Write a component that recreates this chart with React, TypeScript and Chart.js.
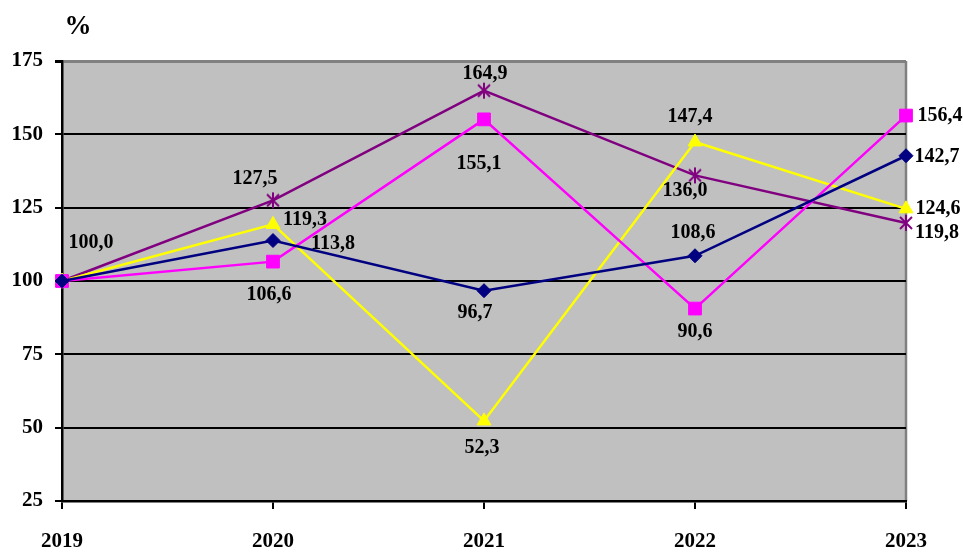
import React, { useEffect, useRef } from "react";
import { Chart, registerables } from "chart.js";

Chart.register(...registerables);

const years = ["2019", "2020", "2021", "2022", "2023"];
const navySeries = [100.0, 113.8, 96.7, 108.6, 142.7];
const magentaSeries = [100.0, 106.6, 155.1, 90.6, 156.4];
const yellowSeries = [100.0, 119.3, 52.3, 147.4, 124.6];
const purpleSeries = [100.0, 127.5, 164.9, 136.0, 119.8];
const yTicks = [25, 50, 75, 100, 125, 150, 175];

// label placement offsets (dx, dy) relative to each point; null = no label
const navyLabelOffsets = [null, [60, 3], [-9, 22], [-2, -23], [31, 1]];
const magentaLabelOffsets = [null, [-4, 33], [-5, 44], [0, 23], [34, 0]];
const yellowLabelOffsets = [null, [32, -5], [-2, 27], [-5, -25], [32, 0]];
const purpleLabelOffsets = [[29, -38], [-18, -22], [1, -17], [-10, 15], [31, 10]];

const FONT = "'Liberation Serif', 'Times New Roman', serif";

function makeStar(color: string): HTMLCanvasElement {
  const c = document.createElement("canvas");
  c.width = 18;
  c.height = 18;
  const g = c.getContext("2d")!;
  g.strokeStyle = color;
  g.lineWidth = 2;
  g.beginPath();
  g.moveTo(3, 3);
  g.lineTo(15, 15);
  g.moveTo(15, 3);
  g.lineTo(3, 15);
  g.moveTo(9, 1);
  g.lineTo(9, 17);
  g.stroke();
  return c;
}

export default function App() {
  const ref = useRef<HTMLCanvasElement | null>(null);

  useEffect(() => {
    document.body.style.margin = "0";
    const canvas = ref.current!;
    const offsets = [navyLabelOffsets, magentaLabelOffsets, yellowLabelOffsets, purpleLabelOffsets];

    const bgPlugin = {
      id: "bg",
      beforeDraw(chart: any) {
        const { ctx, chartArea: a } = chart;
        ctx.save();
        ctx.fillStyle = "#C0C0C0";
        ctx.fillRect(a.left, a.top, a.right - a.left, a.bottom - a.top);
        ctx.strokeStyle = "#808080";
        ctx.lineWidth = 2.5;
        ctx.beginPath();
        ctx.moveTo(a.right, a.top);
        ctx.lineTo(a.right, a.bottom);
        ctx.stroke();
        ctx.restore();
      },
      afterDraw(chart: any) {
        const { ctx } = chart;
        ctx.save();
        ctx.fillStyle = "#000";
        ctx.font = `bold 27px ${FONT}`;
        ctx.textAlign = "center";
        ctx.textBaseline = "middle";
        ctx.fillText("%", 78, 27);
        ctx.restore();
      },
    };

    const labelPlugin = {
      id: "vlabels",
      afterDatasetsDraw(chart: any) {
        const { ctx } = chart;
        ctx.save();
        ctx.fillStyle = "#000";
        ctx.font = `bold 20px ${FONT}`;
        ctx.textAlign = "center";
        ctx.textBaseline = "middle";
        chart.data.datasets.forEach((ds: any, i: number) => {
          const meta = chart.getDatasetMeta(i);
          meta.data.forEach((pt: any, j: number) => {
            const off = offsets[i][j];
            if (!off) return;
            const txt = ds.data[j].toFixed(1).replace(".", ",");
            ctx.fillText(txt, pt.x + off[0], pt.y + off[1]);
          });
        });
        ctx.restore();
      },
    };

    const chart = new Chart(canvas, {
      type: "line",
      data: {
        labels: years,
        datasets: [
          {
            label: "A",
            data: navySeries,
            borderColor: "#000080",
            backgroundColor: "#000080",
            borderWidth: 2.5,
            pointStyle: "rectRot",
            pointRadius: 7,
            pointBorderWidth: 1,
          },
          {
            label: "B",
            data: magentaSeries,
            borderColor: "#FF00FF",
            backgroundColor: "#FF00FF",
            borderWidth: 2.5,
            pointStyle: "rect",
            pointRadius: 9,
            pointBorderWidth: 1,
          },
          {
            label: "C",
            data: yellowSeries,
            borderColor: "#FFFF00",
            backgroundColor: "#FFFF00",
            borderWidth: 2.5,
            pointStyle: "triangle",
            pointRadius: 8,
            pointBorderWidth: 1,
          },
          {
            label: "D",
            data: purpleSeries,
            borderColor: "#800080",
            backgroundColor: "#800080",
            borderWidth: 2.5,
            pointStyle: makeStar("#800080") as any,
            pointRadius: 8,
          },
        ],
      },
      options: {
        responsive: false,
        animation: false,
        devicePixelRatio: 1,
        events: [],
        layout: { padding: { top: 61, right: 57, left: 0, bottom: 0 } },
        plugins: { legend: { display: false }, tooltip: { enabled: false } },
        elements: { line: { tension: 0 } },
        scales: {
          x: {
            type: "category",
            offset: false,
            grid: {
              drawOnChartArea: false,
              drawTicks: true,
              tickLength: 8,
              color: "#000",
              lineWidth: 2,
            },
            border: { color: "#000", width: 2.5 },
            ticks: {
              color: "#000",
              font: { family: FONT, size: 21, weight: "bold" },
              padding: 20,
              maxRotation: 0,
              autoSkip: false,
            },
            afterFit(scale: any) {
              scale.height = 51;
            },
          },
          y: {
            min: 25,
            max: 175,
            afterBuildTicks(scale: any) {
              scale.ticks = yTicks.map((v) => ({ value: v }));
            },
            grid: {
              color: (c: any) => (c.tick && c.tick.value === 175 ? "#808080" : "#000"),
              lineWidth: (c: any) => (c.tick && c.tick.value === 175 ? 3 : 2),
              tickLength: 7,
              tickColor: "#000",
            },
            border: { color: "#000", width: 2.5 },
            ticks: {
              color: "#000",
              font: { family: FONT, size: 21, weight: "bold" },
              padding: 12,
            },
            afterFit(scale: any) {
              scale.width = 62;
            },
          },
        },
      },
      plugins: [bgPlugin, labelPlugin],
    });
    return () => chart.destroy();
  }, []);

  return <canvas ref={ref} width={963} height={552} style={{ display: "block" }} />;
}
